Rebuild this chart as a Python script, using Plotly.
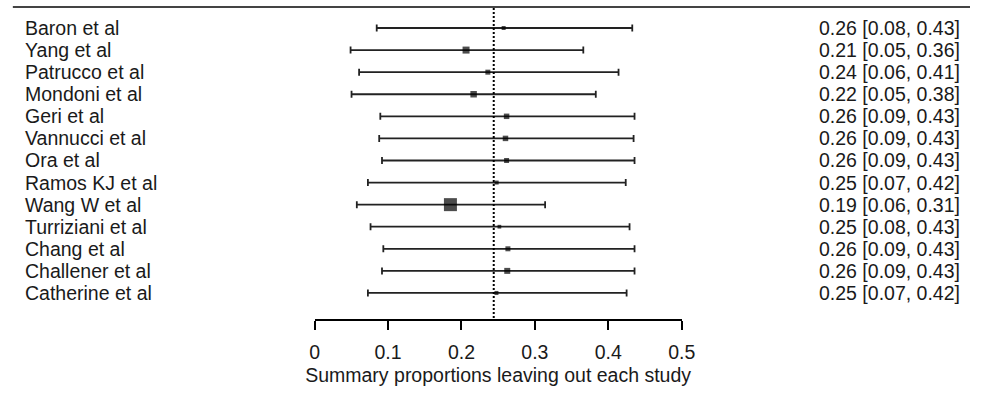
import plotly.graph_objects as go

studies = ["Baron et al", "Yang et al", "Patrucco et al", "Mondoni et al", "Geri et al",
           "Vannucci et al", "Ora et al", "Ramos KJ et al", "Wang W et al", "Turriziani et al",
           "Chang et al", "Challener et al", "Catherine et al"]
est = [0.2575, 0.2063, 0.236, 0.2166, 0.2615, 0.260, 0.2615, 0.248, 0.185, 0.2517, 0.2633, 0.2624, 0.2477]
lower = [0.0846, 0.049, 0.0606, 0.0503, 0.0895, 0.088, 0.0918, 0.0726, 0.0575, 0.0762, 0.0936, 0.0918, 0.0726]
upper = [0.4327, 0.366, 0.414, 0.383, 0.4358, 0.4345, 0.4358, 0.4238, 0.314, 0.429, 0.4358, 0.4358, 0.425]
weights = [16, 49, 25, 42, 30, 30, 25, 16, 169, 14, 25, 36, 16]
labels_right = ["0.26 [0.08, 0.43]", "0.21 [0.05, 0.36]", "0.24 [0.06, 0.41]", "0.22 [0.05, 0.38]",
                "0.26 [0.09, 0.43]", "0.26 [0.09, 0.43]", "0.26 [0.09, 0.43]", "0.25 [0.07, 0.42]",
                "0.19 [0.06, 0.31]", "0.25 [0.08, 0.43]", "0.26 [0.09, 0.43]", "0.26 [0.09, 0.43]",
                "0.25 [0.07, 0.42]"]
overall = 0.244
tick_vals = [0, 0.1, 0.2, 0.3, 0.4, 0.5]
tick_text = ["0", "0.1", "0.2", "0.3", "0.4", "0.5"]
x_title = "Summary proportions leaving out each study"

FONT = "Liberation Sans, Arial, sans-serif"
FS = 19.5
TXT = "#1a1a1a"

rows = list(range(len(studies)))
sizes = [w ** 0.5 for w in weights]

fig = go.Figure()
fig.add_trace(go.Scatter(
    x=est, y=rows, mode="markers",
    marker=dict(symbol="square", size=sizes, color="black", line=dict(width=0)),
    error_x=dict(type="data", symmetric=False,
                 array=[u - e for u, e in zip(upper, est)],
                 arrayminus=[e - l for e, l in zip(est, lower)],
                 color="#222", thickness=1.8, width=3.5),
    cliponaxis=False, showlegend=False, hoverinfo="skip"))

for i, (s, r) in enumerate(zip(studies, labels_right)):
    fig.add_annotation(x=18 / 984, xref="paper", y=i, yref="y", text=s, showarrow=False,
                       xanchor="left", yanchor="middle", font=dict(family=FONT, size=FS, color=TXT))
    fig.add_annotation(x=976 / 984, xref="paper", y=i, yref="y", text=r, showarrow=False,
                       xanchor="right", yanchor="middle", font=dict(family=FONT, size=FS, color=TXT))

# top rule
fig.add_shape(type="line", xref="paper", yref="paper", x0=8 / 984, x1=1, y0=1 - 7 / 399, y1=1 - 7 / 399,
              line=dict(color="#444", width=2))
# summary dotted line
fig.add_shape(type="line", xref="x", yref="paper", x0=overall, x1=overall, y0=(399 - 318) / 399, y1=1 - 7 / 399,
              line=dict(color="black", width=2, dash="2px,2px"))

fig.update_layout(
    width=984, height=399, margin=dict(l=0, r=0, t=0, b=0),
    paper_bgcolor="white", plot_bgcolor="white",
    font=dict(family=FONT, size=FS, color=TXT),
    xaxis=dict(domain=[315.7 / 984, 690 / 984], range=[0, 0.5], tickvals=tick_vals, ticktext=tick_text,
               showgrid=False, zeroline=False, showline=True, linecolor="black", linewidth=1.5,
               ticks="outside", ticklen=9, tickwidth=1.5, tickcolor="black", ticklabelstandoff=6,
               tickfont=dict(family=FONT, size=FS, color=TXT),
               title=dict(text=x_title, font=dict(family=FONT, size=FS, color=TXT), standoff=6)),
    yaxis=dict(domain=[(399 - 319) / 399, 1], range=[(319 - 28) / 22.08, -28 / 22.08],
               visible=False, showgrid=False, zeroline=False),
)

fig.write_html("out.html",
               config={"responsive": False, "displayModeBar": False},
               post_script="document.body.style.margin='0';document.body.style.overflow='hidden';")
